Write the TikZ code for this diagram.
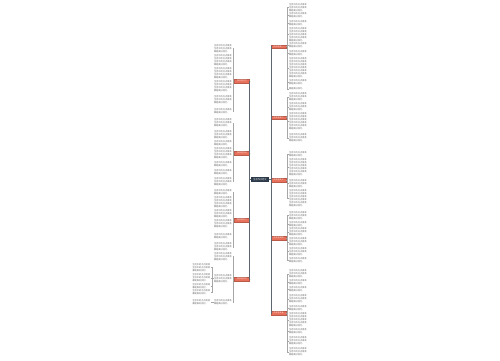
\documentclass[tikz,border=0pt]{standalone}
\usepackage{fontspec}
\newfontfamily\cjk{Noto Sans CJK SC}
\XeTeXlinebreaklocale "zh"
\XeTeXlinebreakskip = 0pt plus 1pt
\definecolor{topicred}{HTML}{E8705A}
\definecolor{rootblue}{HTML}{2D3A4A}
\definecolor{trunkgray}{HTML}{5E6770}
% n lines of essay text
\newcommand\essaylines[1]{\foreach \k in {1,...,#1}{\ifnum\k<#1 生活中的点点滴滴\newline\else 都是美好回忆。\fi}}

\begin{document}
\begin{tikzpicture}[x=1pt,y=-1pt]
\tikzstyle{root} = [rectangle, fill=rootblue, text=white, minimum width=18pt,
minimum height=5pt, inner sep=0.3pt, font=\cjk\fontsize{2.2}{2.6}\selectfont]
\tikzstyle{topic} = [rectangle, fill=topicred, draw=topicred!80!black, line width=0.2pt,
text=white, minimum width=15pt, minimum height=3.6pt, inner sep=0.2pt,
font=\cjk\fontsize{2}{2.4}\selectfont]
\tikzstyle{leaf} = [rectangle, text width=18pt, inner sep=0.3pt, align=left,
text=black!60, font=\cjk\fontsize{2.2}{3}\selectfont]
\tikzstyle{trunk} = [draw=trunkgray, line width=0.8pt]
\tikzstyle{bracket} = [draw=black!35, line width=0.4pt]

\path[fill=white] (0,0) rectangle (500,360);

% root
\node [root] (root) at (260,179.5) {生活作文范文};
% right topics
\node [topic] (ra) at (278.5,46.5) {作文范文一};
\node [topic] (rb) at (278.5,117.5) {作文范文二};
\node [topic] (rc) at (278.5,180) {作文范文三};
\node [topic] (rd) at (278.5,238) {作文范文四};
\node [topic] (re) at (278.5,313) {作文范文五};
% left topics
\node [topic] (la) at (242,81) {作文范文六};
\node [topic] (lb) at (242,153) {作文范文七};
\node [topic] (lc) at (242,220) {作文范文八};
\node [topic] (ld) at (242,279) {作文范文九};

\foreach \t in {ra,rb,rc,rd,re}
  \path[trunk] (root.east) -- ++(2,0) |- (\t.west);
\foreach \t in {la,lb,lc,ld}
  \path[trunk] (root.west) -- ++(-1.2,0) |- (\t.east);

% right leaves
\foreach \y/\n [count=\i] in {7.5/3,15.5/2,23/2,34.5/5,45.5/2,53/2,68/7,82.5/2,89/1} {
  \node [leaf, anchor=west] (ra-\i) at (288.5,\y) {\essaylines{\n}};
  \path[bracket] (ra.east) -- ++(1.5,0) |- (ra-\i.west);
}
\foreach \y/\n [count=\i] in {97/3,107/3,121.5/6,138/3} {
  \node [leaf, anchor=west] (rb-\i) at (288.5,\y) {\essaylines{\n}};
  \path[bracket] (rb.east) -- ++(1.5,0) |- (rb-\i.west);
}
\foreach \y/\n [count=\i] in {154/2,167.5/6,183.5/3,198.5/6} {
  \node [leaf, anchor=west] (rc-\i) at (288.5,\y) {\essaylines{\n}};
  \path[bracket] (rc.east) -- ++(1.5,0) |- (rc-\i.west);
}
\foreach \y/\n [count=\i] in {215.5/3,224/2,232/3,242/3,251.5/3,260/2} {
  \node [leaf, anchor=west] (rd-\i) at (288.5,\y) {\essaylines{\n}};
  \path[bracket] (rd.east) -- ++(1.5,0) |- (rd-\i.west);
}
\foreach \y/\n [count=\i] in {274/3,282.5/2,289.5/2,299/3,308/2,320/5,331.5/2,341/3,352/3} {
  \node [leaf, anchor=west] (re-\i) at (288.5,\y) {\essaylines{\n}};
  \path[bracket] (re.east) -- ++(1.5,0) |- (re-\i.west);
}

% left leaves
\foreach \y/\n [count=\i] in {48.5/3,60/4,73/4,86.5/4,100/3,111/2} {
  \node [leaf, anchor=east] (la-\i) at (232.5,\y) {\essaylines{\n}};
  \path[bracket] (la.west) -- ++(-1.5,0) |- (la-\i.east);
}
\foreach \y/\n [count=\i] in {123/3,135/3,143/2,153.5/4,164.5/2,172/2,181.5/3} {
  \node [leaf, anchor=east] (lb-\i) at (232.5,\y) {\essaylines{\n}};
  \path[bracket] (lb.west) -- ++(-1.5,0) |- (lb-\i.east);
}
\foreach \y/\n [count=\i] in {192.5/2,202.5/4,214/3,224/3,236.5/2,247/3} {
  \node [leaf, anchor=east] (lc-\i) at (232.5,\y) {\essaylines{\n}};
  \path[bracket] (lc.west) -- ++(-1.5,0) |- (lc-\i.east);
}
\foreach \y/\n [count=\i] in {256.5/3,278.5/3,302/2} {
  \node [leaf, anchor=east] (ld-\i) at (232.5,\y) {\essaylines{\n}};
  \path[bracket] (ld.west) -- ++(-1.5,0) |- (ld-\i.east);
}
% second level under ld
\foreach \y/\n [count=\i] in {267.5/3,278/3,286/2,292.5/2} {
  \node [leaf, anchor=east] (ldb-\i) at (211,\y) {\essaylines{\n}};
  \path[bracket] (ld-2.west) -- ++(-1,0) |- (ldb-\i.east);
}
\node [leaf, anchor=east] (ldc-1) at (211,302) {\essaylines{2}};
\path[bracket] (ld-3.west) -- ++(-1,0) |- (ldc-1.east);

\end{tikzpicture}
\end{document}
